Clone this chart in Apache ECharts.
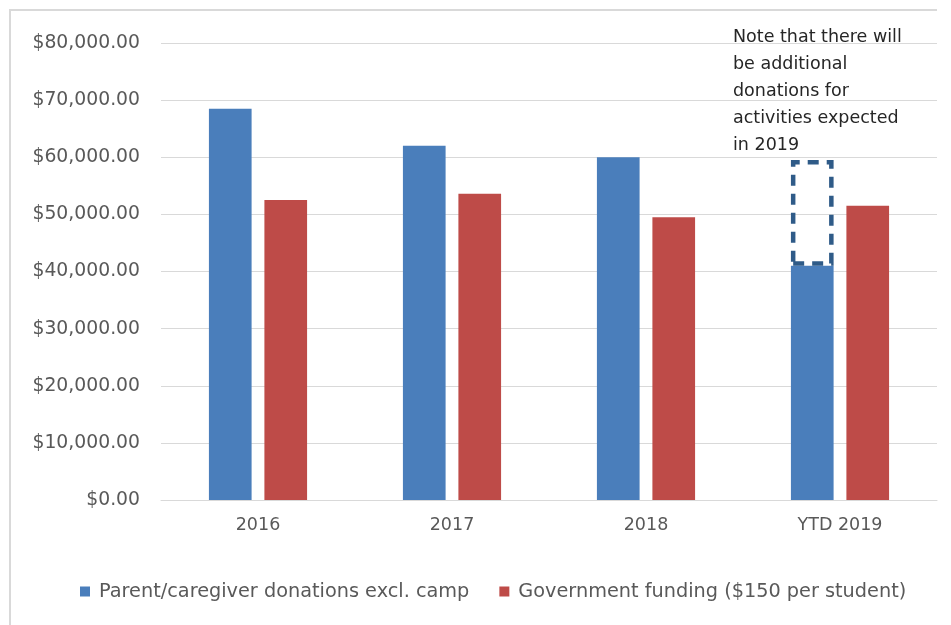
<!DOCTYPE html>
<html>
<head>
<meta charset="utf-8">
<script src="https://cdn.jsdelivr.net/npm/echarts@6/dist/echarts.min.js"></script>
<style>
html,body{margin:0;padding:0;background:#fff;}
#chart{width:951px;height:625px;}
</style>
</head>
<body>
<div id="chart"></div>
<script>
const categories = ['2016', '2017', '2018', 'YTD 2019'];
const donations = [68500, 62000, 60000, 41000];
const expectedExtra = [null, null, null, 18500];
const government = [52500, 53600, 49500, 51500];
const yTicks = [0, 10000, 20000, 30000, 40000, 50000, 60000, 70000, 80000];
const seriesNames = ['Parent/caregiver donations excl. camp', 'Government funding ($150 per student)'];
const noteLines = ['Note that there will', 'be additional', 'donations for', 'activities expected', 'in 2019'];

const FONT = 'DejaVu Sans';
const chart = echarts.init(document.getElementById('chart'));
chart.setOption({
  animation: false,
  textStyle: { fontFamily: FONT },
  grid: { left: 161, right: 14, top: 43, bottom: 125, containLabel: false },
  legend: {
    data: seriesNames,
    bottom: 19,
    left: 75,
    itemWidth: 10,
    itemHeight: 10,
    itemGap: 30,
    icon: 'rect',
    textStyle: { color: '#595959', fontSize: 19.3, fontFamily: FONT, padding: [0, 0, 0, 4] }
  },
  xAxis: {
    type: 'category',
    data: categories,
    axisLine: { lineStyle: { color: '#d9d9d9', width: 1 } },
    axisTick: { show: false },
    axisLabel: { color: '#595959', fontSize: 17.5, margin: 16 }
  },
  yAxis: {
    type: 'value',
    min: yTicks[0],
    max: yTicks[yTicks.length - 1],
    interval: 10000,
    axisLine: { show: false },
    axisTick: { show: false },
    splitLine: { lineStyle: { color: '#d9d9d9', width: 1 } },
    axisLabel: {
      color: '#595959', fontSize: 18.8, margin: 21,
      formatter: v => '$' + v.toLocaleString('en-US', { minimumFractionDigits: 2, maximumFractionDigits: 2 })
    }
  },
  series: [
    {
      name: seriesNames[0], type: 'bar', stack: 'don', data: donations,
      barWidth: '22%', barGap: '30%',
      itemStyle: { color: '#4a7ebb' }
    },
    {
      name: 'expected', type: 'bar', stack: 'don', data: expectedExtra,
      barWidth: '22%', barGap: '30%',
      itemStyle: { color: 'rgba(0,0,0,0)', borderColor: '#2f5b88', borderWidth: 4.5, borderType: [11, 8] }
    },
    {
      name: seriesNames[1], type: 'bar', data: government,
      barWidth: '22%', barGap: '30%',
      itemStyle: { color: '#be4b48' }
    }
  ],
  graphic: [
    {
      type: 'polyline',
      shape: { points: [[10, 625], [10, 10], [937, 10]] },
      style: { stroke: '#d9d9d9', lineWidth: 2, fill: null }
    },
    {
      type: 'text', left: 733, top: 24,
      style: { text: noteLines.join('\n'), fontSize: 17.5, lineHeight: 27, fill: '#262626', fontFamily: FONT }
    }
  ]
});
</script>
</body>
</html>
